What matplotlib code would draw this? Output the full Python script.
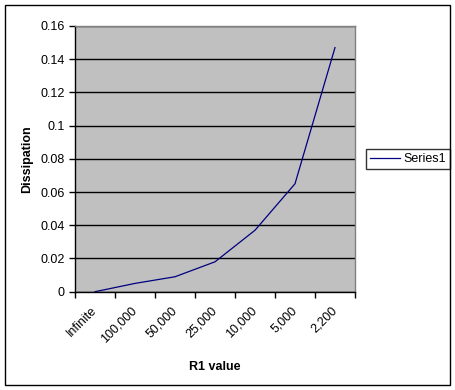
import matplotlib
matplotlib.use('Agg')
import matplotlib.pyplot as plt
import matplotlib.transforms as mtransforms
from matplotlib.patches import Rectangle

# data
r1_labels = ['Infinite', '100,000', '50,000', '25,000', '10,000', '5,000', '2,200']
dissipation = [0.0, 0.005, 0.009, 0.018, 0.037, 0.065, 0.147]
y_ticks = [0, 0.02, 0.04, 0.06, 0.08, 0.1, 0.12, 0.14, 0.16]
y_tick_labels = ['0', '0.02', '0.04', '0.06', '0.08', '0.1', '0.12', '0.14', '0.16']

plt.rcParams['font.family'] = ['Liberation Sans', 'DejaVu Sans']
fs = 9

fig = plt.figure(figsize=(4.55, 3.9), dpi=100)
ax = fig.add_axes([75/455, 1-291.7/390, 280/455, (291.7-26)/390])

x = [i + 0.5 for i in range(len(r1_labels))]
ax.plot(x, dissipation, color='#000080', lw=0.9, label='Series1')

ax.set_facecolor('#C0C0C0')
ax.set_xlim(0, len(r1_labels))
ax.set_ylim(0, 0.16)
ax.set_yticks(y_ticks)
ax.set_yticklabels(y_tick_labels, fontsize=fs)
ax.yaxis.grid(True, color='black', lw=1)
ax.set_axisbelow(True)

# category ticks sit on the boundaries, labels at the centres
ax.set_xticks(range(len(r1_labels) + 1))
ax.set_xticklabels([])
ax.set_xticks(x, minor=True)
ax.set_xticklabels(r1_labels, minor=True, rotation=45, ha='right',
                   rotation_mode='anchor', fontsize=fs)
ax.tick_params(axis='x', which='minor', length=0, pad=9)
ax.tick_params(axis='both', which='major', length=4, width=1, direction='out', color='black')
shift = mtransforms.ScaledTranslation(-4/100, 0, fig.dpi_scale_trans)
for lab in ax.get_xticklabels(minor=True):
    lab.set_transform(lab.get_transform() + shift)

for side in ['top', 'right']:
    ax.spines[side].set_color('#808080')
    ax.spines[side].set_linewidth(1)
for side in ['left', 'bottom']:
    ax.spines[side].set_color('black')
    ax.spines[side].set_linewidth(1)

ax.set_xlabel('R1 value', fontsize=fs, fontweight='bold', labelpad=12)
ax.set_ylabel('Dissipation', fontsize=fs, fontweight='bold', labelpad=5)

leg = ax.legend(loc='center left', bbox_to_anchor=(366/455, 1-159/390),
                bbox_transform=fig.transFigure, fontsize=fs, frameon=True,
                fancybox=False, edgecolor='black', handlelength=2.4,
                borderpad=0.3, handletextpad=0.3, borderaxespad=0)
leg.get_frame().set_linewidth(1)

# outer chart border
fig.patches.append(Rectangle((5/455, 5/390), 445/455, 380/390, transform=fig.transFigure,
                             fill=False, edgecolor='black', lw=1))

fig.savefig('out.png', dpi=100)
